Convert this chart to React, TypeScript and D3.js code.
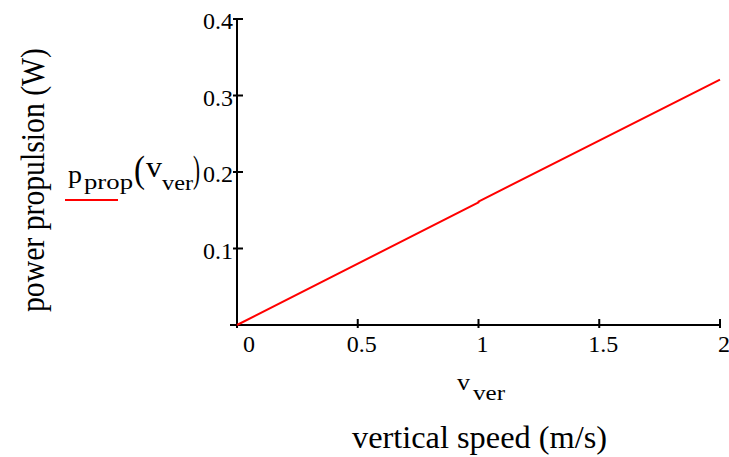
import React from "react";
import * as d3 from "d3";

const vVer = [0, 1, 1, 2];
const pProp = [0, 0.1603, 0.1613, 0.3208];
const xTicks = [0, 0.5, 1, 1.5, 2];
const xTickLabels = ["0", "0.5", "1", "1.5", "2"];
const yTicks = [0.1, 0.2, 0.3, 0.4];
const yTickLabels = ["0.1", "0.2", "0.3", "0.4"];

const W = 729;
const H = 457;
const FONT = "Liberation Serif, Times New Roman, serif";

export default function App() {
  const x = d3.scaleLinear().domain([0, 2]).range([237, 720]);
  const y = d3.scaleLinear().domain([0, 0.4]).range([325, 19]);
  const pts = vVer.map((v, i) => [v, pProp[i]] as [number, number]);
  const line = d3
    .line<[number, number]>()
    .x((d) => x(d[0]))
    .y((d) => y(d[1]));

  const x0 = x(0);
  const y0 = y(0);
  const ts = { fontFamily: FONT } as React.CSSProperties;

  return (
    <svg
      width={W}
      height={H}
      style={{ position: "absolute", left: 0, top: 0, background: "#fff", fontFamily: FONT }}
    >
      <rect width={W} height={H} fill="#fff" />
      {/* axes */}
      <line x1={230} x2={x(2)} y1={y0} y2={y0} stroke="#000" strokeWidth={2} />
      <line x1={x0} x2={x0} y1={y(0.4)} y2={y0 + 3} stroke="#000" strokeWidth={2} />
      {/* x ticks */}
      {xTicks.map((t, i) => (
        <g key={"xt" + i}>
          {i > 0 && (
            <line x1={x(t)} x2={x(t)} y1={y0 - 6} y2={y0 + 3} stroke="#000" strokeWidth={2} />
          )}
          <text
            x={x(t) + (i === 0 ? 12 : 4)}
            y={y0 + 27}
            fontSize={24}
            textAnchor="middle"
            fill="#000"
            style={ts}
          >
            {xTickLabels[i]}
          </text>
        </g>
      ))}
      {/* y ticks */}
      {yTicks.map((t, i) => (
        <g key={"yt" + i}>
          <line x1={x0 - 4} x2={x0 + 6} y1={y(t)} y2={y(t)} stroke="#000" strokeWidth={2} />
          <text x={x0 - 4} y={y(t) + 10} fontSize={24} textAnchor="end" fill="#000" style={ts}>
            {yTickLabels[i]}
          </text>
        </g>
      ))}
      {/* data line */}
      <path d={line(pts) || ""} fill="none" stroke="#ff0000" strokeWidth={2} />
      {/* legend */}
      <g fill="#000" style={ts}>
        <text x={68} y={183} fontSize={25} textLength={14} lengthAdjust="spacingAndGlyphs">p</text>
        <text x={84} y={189} fontSize={22} textLength={49} lengthAdjust="spacingAndGlyphs">prop</text>
        <text x={134} y={182} fontSize={38} textLength={11} lengthAdjust="spacingAndGlyphs">(</text>
        <text x={146} y={177} fontSize={30} textLength={16} lengthAdjust="spacingAndGlyphs">v</text>
        <text x={162} y={190} fontSize={20} textLength={31} lengthAdjust="spacingAndGlyphs">ver</text>
        <text x={193} y={182} fontSize={38} textLength={7} lengthAdjust="spacingAndGlyphs">)</text>
      </g>
      <line x1={65} x2={118} y1={200} y2={200} stroke="#ff0000" strokeWidth={2} />
      {/* x var label */}
      <g fill="#000" style={ts}>
        <text x={457} y={390} fontSize={24} textLength={13} lengthAdjust="spacingAndGlyphs">v</text>
        <text x={473} y={400} fontSize={22} textLength={32} lengthAdjust="spacingAndGlyphs">ver</text>
      </g>
      {/* axis titles */}
      <text
        x={352}
        y={448}
        fontSize={31}
        fill="#000"
        style={ts}
        textLength={255}
        lengthAdjust="spacingAndGlyphs"
      >
        vertical speed (m/s)
      </text>
      <text
        transform="translate(44,312) rotate(-90)"
        x={0}
        y={0}
        fontSize={33}
        fill="#000"
        style={ts}
        textLength={264}
        lengthAdjust="spacingAndGlyphs"
      >
        power propulsion (W)
      </text>
    </svg>
  );
}
